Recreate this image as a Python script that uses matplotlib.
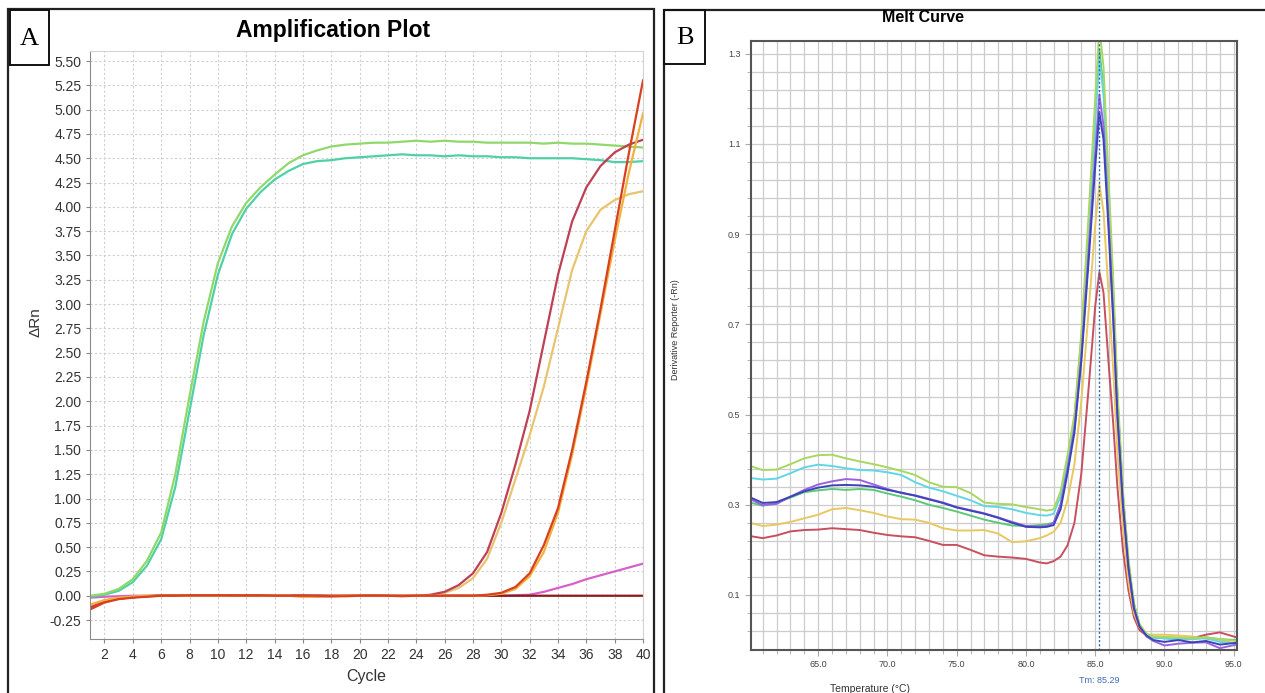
import matplotlib
matplotlib.use("Agg")
import matplotlib.pyplot as plt
from matplotlib.patches import Rectangle
from matplotlib.ticker import MultipleLocator, FormatStrFormatter

plt.rcParams['font.family'] = ['Liberation Sans', 'DejaVu Sans']

# ---------------- Panel A: amplification plot ----------------
cycles = list(range(1, 41))

amp_green = [0.0, 0.02, 0.07, 0.17, 0.36, 0.65, 1.25, 2.05, 2.82, 3.42, 3.8, 4.04, 4.2, 4.33, 4.45, 4.53,
             4.58, 4.62, 4.64, 4.65, 4.66, 4.66, 4.67, 4.68, 4.67, 4.68, 4.67, 4.67, 4.66, 4.66,
             4.66, 4.66, 4.65, 4.66, 4.65, 4.65, 4.64, 4.63, 4.62, 4.61]
amp_cyan = [-0.01, 0.01, 0.05, 0.14, 0.31, 0.58, 1.12, 1.9, 2.68, 3.3, 3.72, 3.98, 4.15, 4.28, 4.37, 4.44,
            4.47, 4.48, 4.5, 4.51, 4.52, 4.53, 4.54, 4.53, 4.53, 4.52, 4.53, 4.52, 4.52, 4.51,
            4.51, 4.5, 4.5, 4.5, 4.5, 4.49, 4.48, 4.46, 4.46, 4.47]
amp_crimson = [-0.12, -0.06, -0.03, -0.015, -0.005, 0.0, 0.0, 0.005, 0.005, 0.005, 0.005, 0.005, 0.005, 0.0, 0.0, 0.0,
               -0.005, -0.005, 0.0, 0.0, 0.005, 0.0, 0.0, 0.0, 0.01, 0.04, 0.11, 0.23, 0.45, 0.85,
               1.35, 1.9, 2.6, 3.3, 3.85, 4.2, 4.42, 4.56, 4.64, 4.69]
amp_yellow1 = [-0.1, -0.05, -0.025, -0.01, 0.0, 0.0, 0.0, 0.005, 0.005, 0.005, 0.005, 0.005, 0.005, 0.0, 0.0, -0.01,
               -0.01, -0.005, 0.0, 0.0, 0.0, 0.0, 0.0, 0.0, 0.005, 0.03, 0.08, 0.18, 0.38, 0.75,
               1.2, 1.65, 2.15, 2.75, 3.35, 3.75, 3.97, 4.07, 4.13, 4.16]
amp_red2 = [-0.14, -0.07, -0.035, -0.02, -0.01, 0.0, 0.0, 0.005, 0.005, 0.005, 0.005, 0.005, 0.005, 0.0, 0.0, 0.0,
            0.0, -0.005, -0.005, 0.0, 0.0, 0.0, -0.005, 0.0, 0.0, 0.0, 0.0, 0.0, 0.01, 0.03,
            0.09, 0.23, 0.52, 0.9, 1.5, 2.2, 2.95, 3.75, 4.55, 5.3]
amp_yellow2 = [-0.09, -0.045, -0.02, -0.01, 0.0, 0.0, 0.0, 0.005, 0.005, 0.005, 0.005, 0.005, 0.005, 0.0, 0.0, -0.01,
               -0.005, 0.0, 0.0, 0.0, 0.0, 0.0, 0.0, 0.0, 0.0, 0.0, 0.0, 0.0, 0.005, 0.02,
               0.07, 0.2, 0.45, 0.85, 1.45, 2.15, 2.9, 3.65, 4.35, 4.96]
amp_magenta = [-0.02, -0.01, -0.005, 0.0, 0.0, 0.0, 0.0, 0.0, 0.0, 0.0, 0.0, 0.0, 0.0, 0.0, 0.0, 0.0,
               0.0, 0.0, 0.0, 0.005, 0.005, 0.0, 0.0, 0.0, 0.0, 0.0, 0.0, 0.0, 0.0, 0.0,
               0.005, 0.01, 0.04, 0.08, 0.12, 0.17, 0.21, 0.25, 0.29, 0.33]
amp_darkred = [-0.11, -0.055, -0.03, -0.015, -0.005, 0.005, 0.005, 0.005, 0.005, 0.005, 0.0, 0.0, 0.0, 0.0, 0.0, 0.0,
               0.0, 0.0, 0.0, 0.0, 0.0, 0.0, 0.0, 0.0, 0.0, 0.0, 0.0, 0.0, 0.0, 0.0,
               0.0, 0.0, 0.0, 0.0, 0.0, 0.0, 0.0, 0.0, 0.0, 0.0]

amp_series = [amp_magenta, amp_darkred, amp_cyan, amp_green, amp_yellow1, amp_crimson, amp_yellow2, amp_red2]
amp_colors = ['#d860c8', '#8b1a1a', '#4fd0a6', '#8fd86a', '#e9c46e', '#bf3f55', '#f2b13c', '#d8401f']

# ---------------- Panel B: melt curve ----------------
temps = [60.2, 61, 62, 63, 64, 65, 66, 67, 68, 69, 70, 71, 72, 73, 74, 75, 76, 77, 78, 79, 80, 81, 81.5,
         82, 82.5, 83, 83.5, 84, 84.5, 85, 85.3, 85.6, 86, 86.3, 86.6, 87, 87.4, 87.8, 88.2, 88.7,
         89.2, 90, 91, 92, 93, 94, 95.2]

melt_lgreen = [0.385, 0.377, 0.378, 0.39, 0.403, 0.41, 0.411, 0.403, 0.396, 0.39, 0.383, 0.375, 0.366, 0.35, 0.34,
               0.339, 0.326, 0.305, 0.302, 0.301, 0.295, 0.29, 0.287,
               0.29, 0.33, 0.41, 0.5, 0.68, 0.93, 1.2, 1.36, 1.27, 1.0, 0.8, 0.56, 0.33, 0.18, 0.08, 0.035, 0.014,
               0.008, 0.007, 0.006, 0.004, 0.006, 0.002, -0.002]
melt_cyan = [0.359, 0.356, 0.358, 0.37, 0.383, 0.389, 0.386, 0.381, 0.377, 0.376, 0.372, 0.366, 0.35, 0.338, 0.33,
             0.32, 0.31, 0.297, 0.295, 0.29, 0.282, 0.277, 0.276,
             0.28, 0.32, 0.4, 0.49, 0.66, 0.89, 1.15, 1.29, 1.21, 0.96, 0.77, 0.54, 0.32, 0.17, 0.08, 0.034, 0.013,
             0.005, 0.004, 0.003, 0.002, 0.004, -0.004, -0.008]
melt_green = [0.304, 0.298, 0.305, 0.316, 0.328, 0.332, 0.335, 0.333, 0.335, 0.333, 0.325, 0.318, 0.31, 0.3, 0.293,
              0.285, 0.276, 0.267, 0.26, 0.254, 0.253, 0.255, 0.257,
              0.26, 0.3, 0.39, 0.49, 0.67, 0.9, 1.17, 1.31, 1.22, 0.97, 0.77, 0.54, 0.32, 0.17, 0.08, 0.033, 0.012,
              0.006, 0.004, 0.002, 0.004, 0.006, 0.002, 0.0]
melt_purple = [0.311, 0.299, 0.302, 0.318, 0.333, 0.345, 0.352, 0.357, 0.355, 0.345, 0.335, 0.326, 0.321, 0.313, 0.305,
               0.295, 0.288, 0.281, 0.272, 0.262, 0.253, 0.252, 0.253,
               0.26, 0.3, 0.38, 0.47, 0.63, 0.85, 1.08, 1.21, 1.14, 0.91, 0.72, 0.5, 0.3, 0.16, 0.07, 0.03, 0.008,
               -0.002, -0.012, -0.008, -0.006, -0.005, -0.018, -0.01]
melt_blue = [0.315, 0.304, 0.306, 0.318, 0.33, 0.338, 0.343, 0.344, 0.343, 0.34, 0.333, 0.327, 0.32, 0.312, 0.304,
             0.294, 0.287, 0.28, 0.271, 0.26, 0.251, 0.25, 0.251,
             0.255, 0.29, 0.37, 0.46, 0.62, 0.83, 1.05, 1.17, 1.11, 0.89, 0.71, 0.5, 0.3, 0.16, 0.07, 0.03, 0.01,
             0.0, -0.004, 0.0, -0.005, -0.002, -0.01, -0.006]
melt_yellow = [0.259, 0.253, 0.256, 0.262, 0.27, 0.278, 0.29, 0.293, 0.288, 0.282, 0.274, 0.268, 0.267, 0.26, 0.248,
               0.243, 0.243, 0.244, 0.236, 0.217, 0.219, 0.226, 0.232,
               0.24, 0.26, 0.31, 0.39, 0.53, 0.72, 0.92, 1.01, 0.95, 0.75, 0.6, 0.42, 0.25, 0.13, 0.06, 0.028, 0.012,
               0.012, 0.012, 0.01, 0.008, 0.003, 0.0, -0.008]
melt_red = [0.23, 0.226, 0.232, 0.241, 0.244, 0.245, 0.248, 0.246, 0.244, 0.238, 0.233, 0.23, 0.228, 0.22, 0.211,
            0.211, 0.2, 0.188, 0.185, 0.183, 0.18, 0.172, 0.17,
            0.175, 0.185, 0.21, 0.26, 0.37, 0.55, 0.74, 0.816, 0.77, 0.6, 0.48, 0.34, 0.2, 0.11, 0.05, 0.022, 0.01,
            0.006, 0.005, 0.002, 0.004, 0.012, 0.017, 0.006]

melt_series = [melt_red, melt_yellow, melt_green, melt_cyan, melt_lgreen, melt_purple, melt_blue]
melt_colors = ['#c8505e', '#e8c860', '#5cc878', '#62d6e6', '#a8d860', '#9a62e0', '#3c44b8']
tm_value = 85.29

W, H = 1265, 693


def fx(x):
    return x / W


def fy(y):
    return 1 - y / H


fig = plt.figure(figsize=(W / 100, H / 100), dpi=100)

# panel frames and letter boxes
fig.add_artist(Rectangle((fx(8), fy(700)), (654 - 8) / W, (700 - 9) / H, transform=fig.transFigure,
                         fill=False, lw=1.6, ec='#222222'))
fig.add_artist(Rectangle((fx(664), fy(700)), (1300 - 664) / W, (700 - 10) / H, transform=fig.transFigure,
                         fill=False, lw=1.6, ec='#222222'))
fig.add_artist(Rectangle((fx(10), fy(65)), 39 / W, 55 / H, transform=fig.transFigure,
                         fill=False, lw=1.4, ec='#111111'))
fig.add_artist(Rectangle((fx(664), fy(64)), 41 / W, 54 / H, transform=fig.transFigure,
                         fill=False, lw=1.4, ec='#111111'))
fig.text(fx(29.5), fy(39), 'A', ha='center', va='center', fontsize=19, family='Liberation Serif')
fig.text(fx(684.5), fy(38), 'B', ha='center', va='center', fontsize=19, family='Liberation Serif')

# ---- A ----
axA = fig.add_axes([fx(90.3), fy(639), (643 - 90.3) / W, (639 - 50.7) / H])
for vals, col in zip(amp_series, amp_colors):
    axA.plot(cycles, vals, color=col, lw=1.6)
axA.set_xlim(1, 40)
axA.set_ylim(-0.445, 5.606)
axA.set_xticks(range(2, 41, 2))
axA.set_yticks([i * 0.25 - 0.25 for i in range(24)])
axA.yaxis.set_major_formatter(FormatStrFormatter('%.2f'))
axA.grid(True, color='#cfcfcf', lw=0.8, linestyle=(0, (2, 2)))
axA.tick_params(labelsize=10, colors='#333333', length=3, color='#888888')
for s in ['left', 'bottom']:
    axA.spines[s].set_color('#8a8a8a')
for s in ['top', 'right']:
    axA.spines[s].set_color('#d4d4d4')
fig.text(fx(333), fy(30), 'Amplification Plot', ha='center', va='center', fontsize=16.5, weight='bold')
fig.text(fx(35), fy(322), 'ΔRn', ha='center', va='center', fontsize=11, rotation=90, color='#333333')
fig.text(fx(366), fy(676), 'Cycle', ha='center', va='center', fontsize=11.5, color='#333333')

# ---- B ----
axB = fig.add_axes([fx(751), fy(650), (1236.5 - 751) / W, (650 - 40.7) / H])
for vals, col in zip(melt_series, melt_colors):
    axB.plot(temps, vals, color=col, lw=1.4)
axB.set_xlim(60.15, 95.2)
axB.set_ylim(-0.022, 1.329)
axB.set_xticks([65, 70, 75, 80, 85, 90, 95])
axB.xaxis.set_minor_locator(MultipleLocator(1))
axB.set_yticks([0.1, 0.3, 0.5, 0.7, 0.9, 1.1, 1.3])
axB.set_yticks([0.02 + 0.04 * i for i in range(33)], minor=True)
axB.xaxis.set_major_formatter(FormatStrFormatter('%.1f'))
axB.yaxis.set_major_formatter(FormatStrFormatter('%.1f'))
axB.grid(True, which='both', color='#cccccc', lw=0.9)
axB.tick_params(which='both', labelsize=6.5, colors='#444444', color='#aaaaaa')
axB.tick_params(which='major', length=4)
axB.tick_params(which='minor', length=3)
for s in axB.spines.values():
    s.set_color('#555555')
    s.set_linewidth(1.5)
axB.axvline(tm_value, color='#2f66b0', lw=1.0, linestyle=(0, (1.5, 1.5)))
axB.text(tm_value, -0.05, 'Tm: 85.29', transform=axB.get_xaxis_transform(), ha='center', va='center',
         fontsize=6.5, color='#3a6cb5')
fig.text(fx(923), fy(18), 'Melt Curve', ha='center', va='center', fontsize=11.5, weight='bold')
fig.text(fx(676), fy(330), 'Derivative Reporter (-Rn)', ha='center', va='center', fontsize=6.5,
         rotation=90, color='#333333')
fig.text(fx(870), fy(689), 'Temperature (°C)', ha='center', va='center', fontsize=7.5, color='#333333')

fig.savefig('out.png', dpi=100)
